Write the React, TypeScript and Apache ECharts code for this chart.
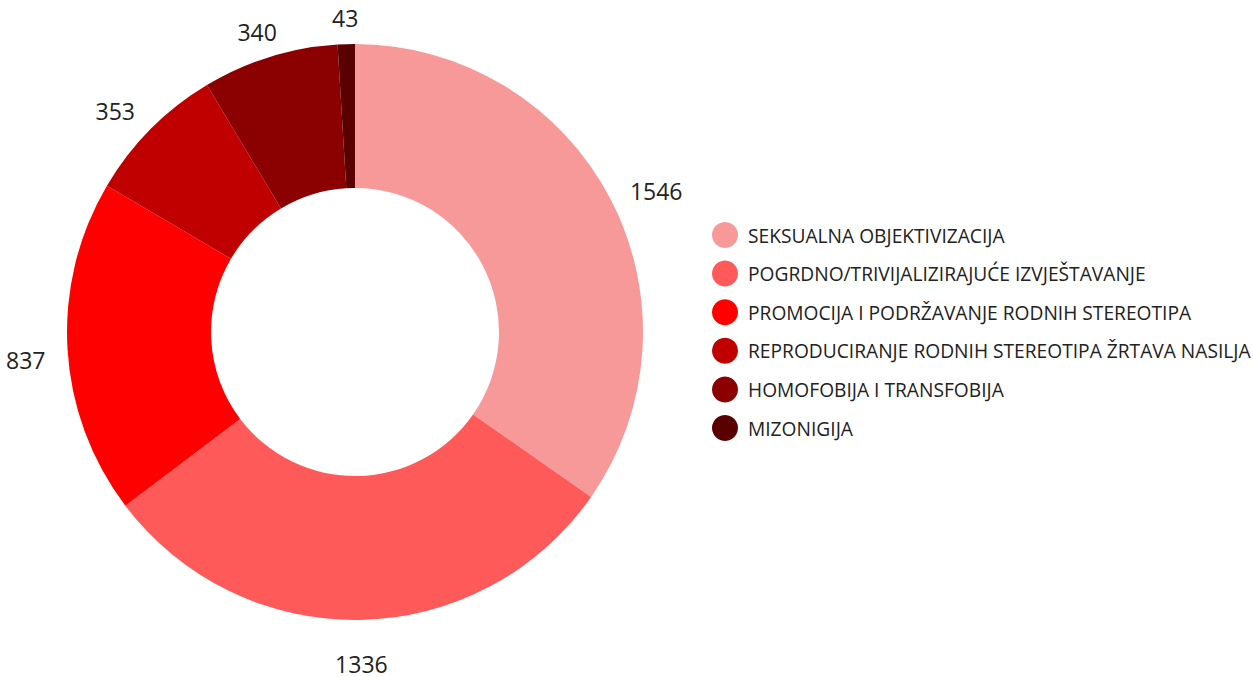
import React, { useEffect, useRef } from "react";
import * as echarts from "echarts";

const categories = [
  "SEKSUALNA OBJEKTIVIZACIJA",
  "POGRDNO/TRIVIJALIZIRAJUĆE IZVJEŠTAVANJE",
  "PROMOCIJA I PODRŽAVANJE RODNIH STEREOTIPA",
  "REPRODUCIRANJE RODNIH STEREOTIPA ŽRTAVA NASILJA",
  "HOMOFOBIJA I TRANSFOBIJA",
  "MIZONIGIJA",
];
const values = [1546, 1336, 837, 353, 340, 43];
const colors = ["#F79999", "#FF5A5A", "#FF0000", "#C00000", "#8B0000", "#5A0000"];

const CX = 355;
const CY = 332;
const INNER = 144;
const OUTER = 288;
const FONT = "'Open Sans', 'Noto Sans', sans-serif";

export default function App() {
  const ref = useRef<HTMLDivElement>(null);
  useEffect(() => {
    if (!ref.current) return;
    const chart = echarts.init(ref.current, null, { renderer: "svg" });
    const total = values.reduce((a, b) => a + b, 0);
    chart.setOption({
      animation: false,
      color: colors,
      legend: {
        orient: "vertical",
        left: 712,
        top: 222,
        padding: 0,
        icon: "circle",
        itemWidth: 26,
        itemHeight: 26,
        itemGap: 12.6,
        textStyle: { fontFamily: FONT, fontSize: 19.2, color: "#222", padding: [0, 0, 0, 5] },
        data: categories,
      },
      series: [
        {
          type: "pie",
          center: [CX, CY],
          radius: [INNER, OUTER],
          startAngle: 90,
          clockwise: true,
          label: {
            show: true,
            position: "outside",
            formatter: "{c}",
            fontFamily: FONT,
            fontSize: 23,
            lineHeight: 22,
            color: "#222",
            bleedMargin: 0,
            overflow: "none",
          },
          labelLine: { show: false },
          labelLayout: (p: any) => {
            const i = p.dataIndex;
            let before = 0;
            for (let k = 0; k < i; k++) before += values[k];
            const mid = ((before + values[i] / 2) / total) * Math.PI * 2;
            const vx = Math.sin(mid);
            const vy = -Math.cos(mid);
            const s = 1 / Math.max(Math.abs(vx), Math.abs(vy));
            const w = p.labelRect.width;
            const h = 20;
            const R = OUTER + 22;
            return {
              x: CX + vx * R + (vx * s * w) / 2,
              y: CY + vy * R + (vy * s * h) / 2 + 9 + 3 * vy,
              align: "center",
              verticalAlign: "middle",
            };
          },
          emphasis: { disabled: true },
          data: categories.map((name, i) => ({ name, value: values[i] })),
        },
      ],
    });
    return () => chart.dispose();
  }, []);
  return (
    <div
      ref={ref}
      style={{ position: "fixed", left: 0, top: 0, width: 1253, height: 677, background: "#fff" }}
    />
  );
}
